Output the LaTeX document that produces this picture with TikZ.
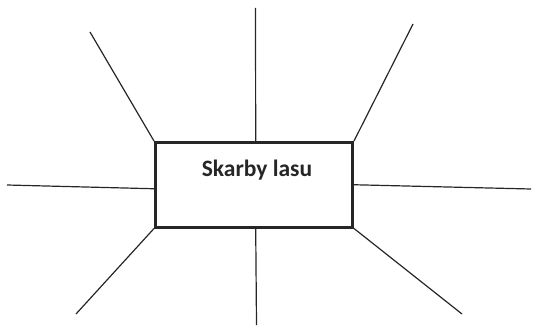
\documentclass[tikz,border=0pt]{standalone}
\usepackage{fontspec}
\setmainfont{Carlito}
\begin{document}
\begin{tikzpicture}[x=1pt,y=-1pt,
  boxstyle/.style={draw=black!85,line width=3pt,minimum width=197pt,minimum height=84.5pt,inner sep=0pt},
  ray/.style={draw=black!85,line width=1.2pt},
  titlestyle/.style={font=\fontsize{23.5}{28}\selectfont\bfseries,text=black!85,inner sep=0pt}]
\useasboundingbox (0,0) rectangle (534,326);
\node[boxstyle] (box) at (254,184.75) {};
\node[titlestyle] (title) at (257,170) {Skarby lasu};
\coordinate (tl) at (90,32);
\coordinate (tc) at (255.5,8);
\coordinate (tr) at (413,24);
\coordinate (l) at (7,185);
\coordinate (r) at (531,189);
\coordinate (bl) at (76,314);
\coordinate (bc) at (256.5,325);
\coordinate (br) at (462,314);
\draw[ray] (box.north west) -- (tl);
\draw[ray] ([xshift=1.7pt]box.north) -- (tc);
\draw[ray] (box.north east) -- (tr);
\draw[ray] ([yshift=-4pt]box.west) -- (l);
\draw[ray] (box.east) -- (r);
\draw[ray] (box.south west) -- (bl);
\draw[ray] ([xshift=1.7pt]box.south) -- (bc);
\draw[ray] (box.south east) -- (br);
\end{tikzpicture}
\end{document}
